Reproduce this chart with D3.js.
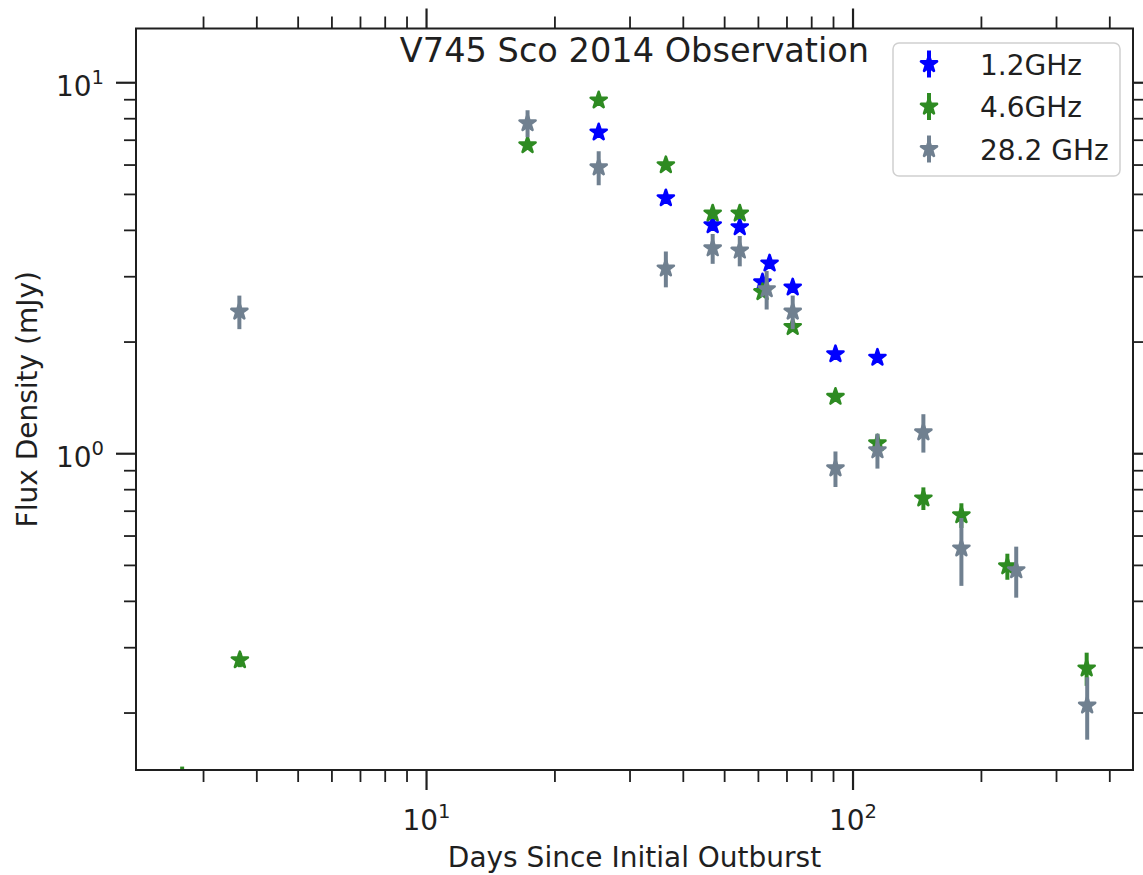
<!DOCTYPE html>
<html><head><meta charset="utf-8">
<script src="https://cdn.jsdelivr.net/npm/d3@7"></script>
<style>body{margin:0;background:#fff;} text{font-family:"DejaVu Sans",sans-serif;}</style>
</head><body><svg id="chart" width="1143" height="875"></svg>
<script>
// ---- data ----
const title = "V745 Sco 2014 Observation";
const xLabel = "Days Since Initial Outburst";
const yLabel = "Flux Density (mJy)";
const seriesNames = ["1.2GHz", "4.6GHz", "28.2 GHz"];
const seriesColors = ["#0000ff", "#2e8b22", "#708090"];

const days12 = [25.4, 36.5, 47.0, 54.4, 61.5, 63.9, 72.4, 91.2, 114.4];
const flux12 = [7.33, 4.87, 4.12, 4.07, 2.89, 3.25, 2.80, 1.85, 1.81];
const err12  = [0.15, 0.10, 0.10, 0.10, 0.08, 0.10, 0.08, 0.05, 0.05];

const days46 = [2.68, 3.66, 17.3, 25.4, 36.5, 47.0, 54.4, 61.5, 72.4, 91.2, 114.4, 146.6, 180, 230.7, 354];
const flux46 = [0.133, 0.277, 6.77, 8.94, 5.98, 4.43, 4.43, 2.72, 2.19, 1.42, 1.064, 0.756, 0.681, 0.496, 0.263];
const err46  = [0.01, 0.012, 0.20, 0.20, 0.12, 0.12, 0.12, 0.08, 0.06, 0.04, 0.06, 0.053, 0.052, 0.04, 0.027];

const days28 = [3.65, 17.3, 25.4, 36.5, 47.0, 54.4, 62.9, 72.4, 91.2, 114.4, 146.6, 180, 242, 355];
const flux28 = [2.41, 7.76, 5.90, 3.15, 3.57, 3.52, 2.77, 2.41, 0.911, 1.019, 1.139, 0.554, 0.484, 0.209];
const err28  = [0.25, 0.65, 0.62, 0.35, 0.33, 0.33, 0.33, 0.25, 0.10, 0.11, 0.135, 0.115, 0.076, 0.04];

const xDomain = [2.089, 454.6];
const yDomain = [0.140, 13.96];
const xMajorTicks = [10, 100];
const xMinorTicks = [3, 4, 5, 6, 7, 8, 9, 20, 30, 40, 50, 60, 70, 80, 90, 200, 300, 400];
const yMajorTicks = [1, 10];
const yMinorTicks = [0.2, 0.3, 0.4, 0.5, 0.6, 0.7, 0.8, 0.9, 2, 3, 4, 5, 6, 7, 8, 9];

// ---- layout ----
const W = 1143, H = 875;
const L = 136, R = 1133, T = 28.5, B = 770;
const ink = "#1f1f1f";
const FS = 28;

const svg = d3.select("#chart");
const x = d3.scaleLog().domain(xDomain).range([L, R]);
const y = d3.scaleLog().domain(yDomain).range([B, T]);

const series = [
  {name: seriesNames[0], color: seriesColors[0], d: days12, f: flux12, e: err12},
  {name: seriesNames[1], color: seriesColors[1], d: days46, f: flux46, e: err46},
  {name: seriesNames[2], color: seriesColors[2], d: days28, f: flux28, e: err28}
];

svg.append("defs").append("clipPath").attr("id", "clip")
  .append("rect").attr("x", L).attr("y", T).attr("width", R - L).attr("height", B - T);

const star = d3.symbol().type(d3.symbolStar).size(80);

const plot = svg.append("g").attr("clip-path", "url(#clip)");
series.forEach(s => {
  const pts = s.d.map((d, i) => ({d, f: s.f[i], e: s.e[i]}));
  const g = plot.append("g");
  g.selectAll("line").data(pts).join("line")
    .attr("x1", p => x(p.d)).attr("x2", p => x(p.d))
    .attr("y1", p => y(p.f + p.e)).attr("y2", p => y(Math.max(p.f - p.e, 1e-6)))
    .attr("stroke", s.color).attr("stroke-width", 4);
  g.selectAll("path").data(pts).join("path")
    .attr("d", star)
    .attr("transform", p => `translate(${x(p.d)},${y(p.f)})`)
    .attr("fill", s.color).attr("stroke", s.color).attr("stroke-width", 2.6)
    .attr("stroke-linejoin", "round");
});

// ---- axes ----
function styleAxis(g, w) {
  g.select(".domain").remove();
  g.selectAll(".tick line").attr("stroke", ink).attr("stroke-width", w);
}
function supLabels(g, isX) {
  g.selectAll(".tick text").each(function(d) {
    const t = d3.select(this);
    t.text("10").attr("fill", ink).attr("font-size", FS).attr("font-family", "DejaVu Sans");
    if (isX) t.attr("y", 60).attr("dy", null);
    else t.attr("y", 13).attr("dy", null);
    t.append("tspan").attr("dy", -12).attr("font-size", FS * 0.7).text(Math.round(Math.log10(d)));
  });
}
// bottom
svg.append("g").attr("transform", `translate(0,${B})`)
  .call(d3.axisBottom(x).tickValues(xMinorTicks).tickSize(12).tickFormat(""))
  .call(g => styleAxis(g, 1.8));
svg.append("g").attr("transform", `translate(0,${B})`)
  .call(d3.axisBottom(x).tickValues(xMajorTicks).tickSize(20).tickPadding(10))
  .call(g => styleAxis(g, 2.2)).call(g => supLabels(g, true));
// top
svg.append("g").attr("transform", `translate(0,${T})`)
  .call(d3.axisTop(x).tickValues(xMinorTicks).tickSize(12).tickFormat(""))
  .call(g => styleAxis(g, 1.8));
svg.append("g").attr("transform", `translate(0,${T})`)
  .call(d3.axisTop(x).tickValues(xMajorTicks).tickSize(20).tickFormat(""))
  .call(g => styleAxis(g, 2.2));
// left
svg.append("g").attr("transform", `translate(${L},0)`)
  .call(d3.axisLeft(y).tickValues(yMinorTicks).tickSize(12).tickFormat(""))
  .call(g => styleAxis(g, 1.8));
svg.append("g").attr("transform", `translate(${L},0)`)
  .call(d3.axisLeft(y).tickValues(yMajorTicks).tickSize(20).tickPadding(12))
  .call(g => styleAxis(g, 2.2)).call(g => supLabels(g, false));
// right
svg.append("g").attr("transform", `translate(${R},0)`)
  .call(d3.axisRight(y).tickValues(yMinorTicks).tickSize(12).tickFormat(""))
  .call(g => styleAxis(g, 1.8));
svg.append("g").attr("transform", `translate(${R},0)`)
  .call(d3.axisRight(y).tickValues(yMajorTicks).tickSize(20).tickFormat(""))
  .call(g => styleAxis(g, 2.2));

// frame
svg.append("rect").attr("x", L).attr("y", T).attr("width", R - L).attr("height", B - T)
  .attr("fill", "none").attr("stroke", ink).attr("stroke-width", 2);

// title & labels
svg.append("text").attr("x", (L + R) / 2).attr("y", 62).attr("text-anchor", "middle")
  .attr("font-size", 33.6).attr("fill", ink).text(title);
svg.append("text").attr("x", (L + R) / 2).attr("y", 867).attr("text-anchor", "middle")
  .attr("font-size", FS).attr("fill", ink).text(xLabel);
svg.append("text").attr("transform", `translate(37,${(T + B) / 2}) rotate(-90)`)
  .attr("text-anchor", "middle").attr("font-size", FS).attr("fill", ink).text(yLabel);

// legend
const lg = svg.append("g");
lg.append("rect").attr("x", 893).attr("y", 43).attr("width", 227).attr("height", 133)
  .attr("rx", 6).attr("fill", "#fff").attr("fill-opacity", 0.8)
  .attr("stroke", "#d0d0d0").attr("stroke-width", 1.5);
series.forEach((s, i) => {
  const cy = 64 + i * 42.5;
  lg.append("line").attr("x1", 929).attr("x2", 929).attr("y1", cy - 13.5).attr("y2", cy + 13.5)
    .attr("stroke", s.color).attr("stroke-width", 4);
  lg.append("path").attr("d", star).attr("transform", `translate(929,${cy})`)
    .attr("fill", s.color).attr("stroke", s.color).attr("stroke-width", 2.6)
    .attr("stroke-linejoin", "round");
  lg.append("text").attr("x", 980).attr("y", cy + 10.5).attr("font-size", FS)
    .attr("fill", ink).text(s.name);
});
</script></body></html>
